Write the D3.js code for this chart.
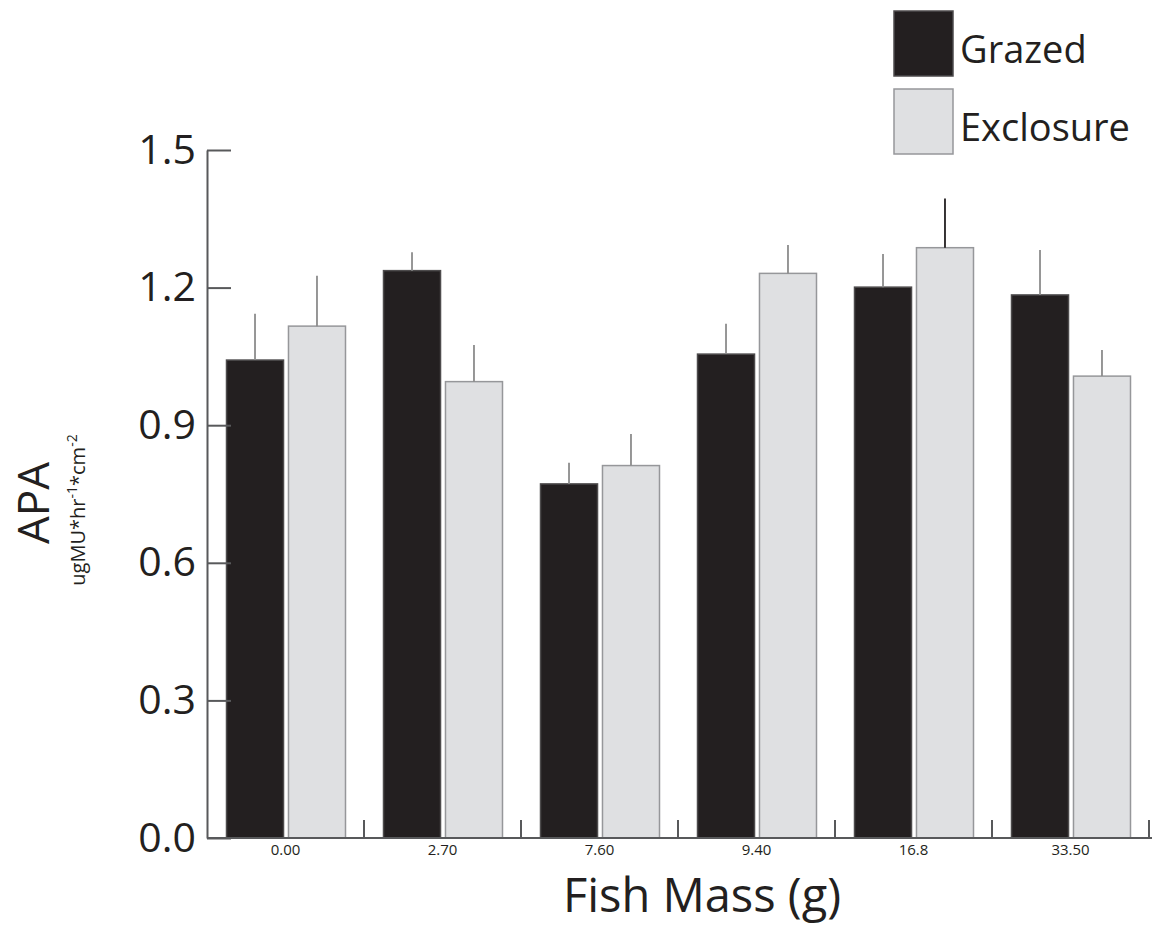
<!DOCTYPE html>
<html>
<head>
<meta charset="utf-8">
<script src="https://cdn.jsdelivr.net/npm/d3@7/dist/d3.min.js"></script>
<style>
  html, body { margin: 0; padding: 0; background: #fff; }
  svg { display: block; font-family: "Open Sans", "Noto Sans", sans-serif; }
</style>
</head>
<body>
<svg id="chart" width="1154" height="931"></svg>
<script>
// ---- data ----
const categories = ["0.00", "2.70", "7.60", "9.40", "16.8", "33.50"];
const seriesNames = ["Grazed", "Exclosure"];
const grazed = [1.042, 1.237, 0.772, 1.055, 1.201, 1.184];
const grazedErr = [0.101, 0.040, 0.046, 0.066, 0.072, 0.098];
const exclosure = [1.116, 0.995, 0.812, 1.231, 1.287, 1.007];
const exclosureErr = [0.110, 0.080, 0.069, 0.062, 0.107, 0.057];
const yTicks = [0.0, 0.3, 0.6, 0.9, 1.2, 1.5];

(function () {
const colors = { Grazed: "#231f20", Exclosure: "#dfe0e2" };
const strokes = { Grazed: "#4d4b4c", Exclosure: "#96979a" };

const svg = d3.select("#chart");
const mLeft = 207, mRight = 1149, mTop = 150, mBottom = 838;

const x = d3.scaleBand().domain(categories).range([mLeft, mRight]).padding(0);
const xs = d3.scaleBand().domain(seriesNames).range([19.5, 138.5]).paddingInner(0.08);
const y = d3.scaleLinear().domain([0, 1.5]).range([mBottom, mTop]);

const rows = categories.map((c, i) => ({
  cat: c,
  vals: [
    { s: "Grazed", v: grazed[i], e: grazedErr[i] },
    { s: "Exclosure", v: exclosure[i], e: exclosureErr[i] }
  ]
}));

// bars
const g = svg.append("g");
const groups = g.selectAll("g.grp").data(rows).join("g")
  .attr("class", "grp")
  .attr("transform", d => `translate(${x(d.cat)},0)`);

groups.selectAll("rect").data(d => d.vals).join("rect")
  .attr("x", d => xs(d.s))
  .attr("width", xs.bandwidth())
  .attr("y", d => y(d.v))
  .attr("height", d => mBottom - y(d.v))
  .attr("fill", d => colors[d.s])
  .attr("stroke", d => strokes[d.s])
  .attr("stroke-width", 1.5);

// error bars (upper only)
groups.each(function(row) {
  d3.select(this).selectAll("line.err").data(row.vals).join("line")
    .attr("class", "err")
    .attr("x1", d => xs(d.s) + xs.bandwidth() / 2)
    .attr("x2", d => xs(d.s) + xs.bandwidth() / 2)
    .attr("y1", d => y(d.v))
    .attr("y2", d => y(d.v + d.e))
    .attr("stroke", d => (row.cat === "16.8" && d.s === "Exclosure") ? "#231f20" : "#8c8c8c")
    .attr("stroke-width", 1.8);
});

// y axis
const yAxis = d3.axisLeft(y)
  .tickValues(yTicks)
  .tickFormat(d3.format(".1f"))
  .tickSizeInner(-24)
  .tickSizeOuter(0)
  .tickPadding(11);
const ya = svg.append("g").attr("transform", `translate(${mLeft},0)`).call(yAxis);
ya.select(".domain").attr("stroke", "#58595b").attr("stroke-width", 2);
ya.selectAll(".tick line").attr("stroke", "#58595b").attr("stroke-width", 2);
ya.selectAll(".tick text")
  .attr("x", -11)
  .attr("fill", "#231f20")
  .style("font-size", "41px")
  .style("font-family", "'Open Sans', sans-serif");

// x axis
const xAxis = d3.axisBottom(x).tickSize(0).tickPadding(6);
const xa = svg.append("g").attr("transform", `translate(0,${mBottom})`).call(xAxis);
xa.select(".domain").remove();
xa.selectAll(".tick text")
  .attr("fill", "#231f20")
  .style("font-size", "15px")
  .style("font-family", "'Open Sans', sans-serif");
svg.append("line")
  .attr("x1", mLeft).attr("x2", mRight + 3)
  .attr("y1", mBottom).attr("y2", mBottom)
  .attr("stroke", "#58595b").attr("stroke-width", 2);
svg.append("g").selectAll("line").data(categories).join("line")
  .attr("x1", d => x(d) + x.bandwidth())
  .attr("x2", d => x(d) + x.bandwidth())
  .attr("y1", mBottom).attr("y2", mBottom - 18)
  .attr("stroke", "#58595b").attr("stroke-width", 2);

// x axis title
svg.append("text")
  .attr("x", 702).attr("y", 912)
  .attr("text-anchor", "middle")
  .attr("fill", "#231f20")
  .style("font-size", "47px")
  .text("Fish Mass (g)");

// y axis title
svg.append("text")
  .attr("transform", "translate(49,503) rotate(-90)")
  .attr("text-anchor", "middle")
  .attr("fill", "#231f20")
  .style("font-size", "44px")
  .text("APA");
const sub = svg.append("text")
  .attr("transform", "translate(85,510) rotate(-90)")
  .attr("text-anchor", "middle")
  .attr("fill", "#231f20")
  .style("font-size", "20px");
sub.append("tspan").text("ugMU*hr");
sub.append("tspan").attr("dy", -8).style("font-size", "14px").text("-1");
sub.append("tspan").attr("dy", 8).text("*cm");
sub.append("tspan").attr("dy", -8).style("font-size", "14px").text("-2");

// legend
const leg = svg.append("g");
const legY = [11, 89];
seriesNames.forEach((s, i) => {
  leg.append("rect")
    .attr("x", 894).attr("y", legY[i])
    .attr("width", 59).attr("height", 65)
    .attr("fill", colors[s])
    .attr("stroke", strokes[s]).attr("stroke-width", 1.5);
  leg.append("text")
    .attr("x", 960).attr("y", legY[i] + 52)
    .attr("fill", "#231f20")
    .style("font-size", "38px")
    .text(s);
});
})();
</script>
</body>
</html>
